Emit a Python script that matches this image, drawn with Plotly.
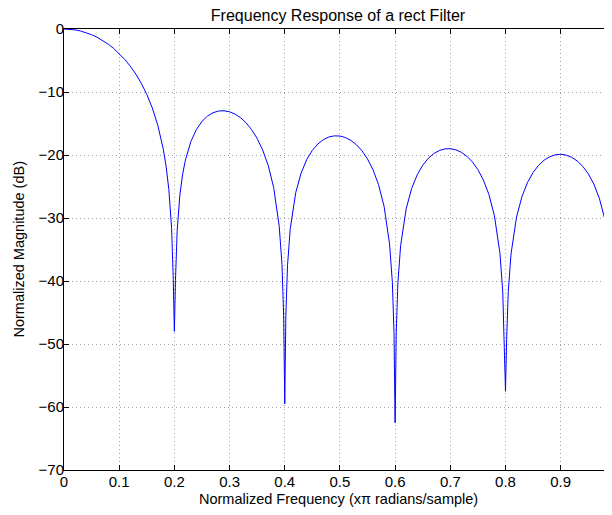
import plotly.graph_objects as go

# normalized frequency (x pi rad/sample) and magnitude (dB)
freq = [0.0, 0.01, 0.02, 0.03, 0.04, 0.05, 0.06, 0.07, 0.08, 0.09,
        0.10, 0.11, 0.12, 0.13, 0.14, 0.15, 0.16, 0.17, 0.18, 0.185, 0.19,
        0.195, 0.198, 0.2, 0.202, 0.205, 0.21, 0.215, 0.22, 0.23, 0.24,
        0.25, 0.26, 0.27, 0.28, 0.29, 0.30, 0.31, 0.32, 0.33, 0.34,
        0.35, 0.36, 0.37, 0.38, 0.39, 0.395, 0.398, 0.4, 0.402, 0.405,
        0.41, 0.42, 0.43, 0.44, 0.45, 0.46, 0.47, 0.48, 0.49, 0.50,
        0.51, 0.52, 0.53, 0.54, 0.55, 0.56, 0.57, 0.58, 0.59, 0.595,
        0.598, 0.6, 0.602, 0.605, 0.61, 0.62, 0.63, 0.64, 0.65, 0.66,
        0.67, 0.68, 0.69, 0.70, 0.71, 0.72, 0.73, 0.74, 0.75, 0.76,
        0.77, 0.78, 0.79, 0.795, 0.798, 0.8, 0.802, 0.805, 0.81, 0.82,
        0.83, 0.84, 0.85, 0.86, 0.87, 0.88, 0.89, 0.90, 0.91, 0.92,
        0.93, 0.94, 0.95, 0.96, 0.97, 0.98, 0.985, 0.99, 0.993]
mag_db = [0.0, -0.04, -0.14, -0.32, -0.57, -0.90, -1.31, -1.81, -2.40, -3.09,
          -3.89, -4.82, -5.89, -7.14, -8.62, -10.37, -12.53, -15.29, -19.11, -21.78, -25.48,
          -31.69, -39.77, -48.0, -39.94, -32.11, -26.32, -23.04, -20.80, -17.83, -15.94,
          -14.67, -13.82, -13.29, -13.02, -12.98, -13.14, -13.51, -14.09, -14.90, -15.98,
          -17.37, -19.20, -21.65, -25.20, -31.31, -37.40, -45.41, -59.5, -45.48, -37.58,
          -31.68, -25.95, -22.78, -20.70, -19.26, -18.25, -17.56, -17.14, -16.96, -16.99,
          -17.23, -17.69, -18.38, -19.34, -20.63, -22.35, -24.71, -28.15, -34.17, -40.22,
          -48.20, -62.5, -48.24, -40.32, -34.37, -28.55, -25.30, -23.15, -21.63, -20.54,
          -19.78, -19.29, -19.03, -19.00, -19.17, -19.57, -20.20, -21.10, -22.32, -23.98,
          -26.28, -29.67, -35.63, -41.65, -49.61, -57.5, -49.63, -41.69, -35.72, -29.85,
          -26.55, -24.34, -22.77, -21.63, -20.82, -20.28, -19.98, -19.89, -20.02, -20.37,
          -20.95, -21.80, -22.98, -24.60, -26.85, -30.20, -32.64, -36.11, -39.19]

x_ticks = [0, 0.1, 0.2, 0.3, 0.4, 0.5, 0.6, 0.7, 0.8, 0.9]
x_tick_labels = ["0", "0.1", "0.2", "0.3", "0.4", "0.5", "0.6", "0.7", "0.8", "0.9"]
y_ticks = [0, -10, -20, -30, -40, -50, -60, -70]

font_family = "Liberation Sans, Arial, sans-serif"
grid_color = "rgb(160,160,160)"

# the page body adds an 8px margin, so the figure is sized to fit the window
W, H = 604, 507

fig = go.Figure()
fig.add_trace(go.Scatter(
    x=freq, y=mag_db,
    mode="lines",
    line=dict(color="rgb(0,0,255)", width=1),
    showlegend=False,
))

fig.update_layout(
    width=W, height=H,
    margin=dict(l=56, r=0, t=21, b=45, autoexpand=False),
    paper_bgcolor="white",
    plot_bgcolor="white",
    font=dict(family=font_family, size=15, color="black"),
    title=dict(
        text="Frequency Response of a rect Filter",
        x=0.5, xref="paper", xanchor="center",
        y=1 - 7 / H, yref="container", yanchor="middle",
        font=dict(size=16, color="black"),
        automargin=False,
    ),
    xaxis=dict(
        range=[0, 0.993],
        automargin=False,
        tickvals=x_ticks, ticktext=x_tick_labels,
        ticks="inside", ticklen=5, tickcolor="black",
        showline=True, linecolor="black", linewidth=1, mirror="ticks",
        showgrid=True, gridcolor=grid_color, griddash="1px,3px", gridwidth=1,
        zeroline=False,
        tickfont=dict(size=15),
        ticklabelstandoff=-2,
    ),
    yaxis=dict(
        range=[-70, 0],
        automargin=False,
        tickvals=y_ticks,
        ticks="inside", ticklen=5, tickcolor="black",
        showline=True, linecolor="black", linewidth=1, mirror=False,
        showgrid=True, gridcolor=grid_color, griddash="1px,3px", gridwidth=1,
        zeroline=False,
        tickfont=dict(size=15),
        ticklabelstandoff=-4,
    ),
    annotations=[
        dict(text="Normalized Frequency (x\u03c0 radians/sample)",
             xref="paper", yref="paper", x=0.5, y=0,
             xanchor="center", yanchor="middle", yshift=-29,
             showarrow=False, font=dict(size=14.5)),
        dict(text="Normalized Magnitude (dB)", textangle=-90,
             xref="paper", yref="paper", x=0, y=0.5,
             xanchor="center", yanchor="middle", xshift=-46,
             showarrow=False, font=dict(size=14.5)),
    ],
)

fig.write_html("out.html")
